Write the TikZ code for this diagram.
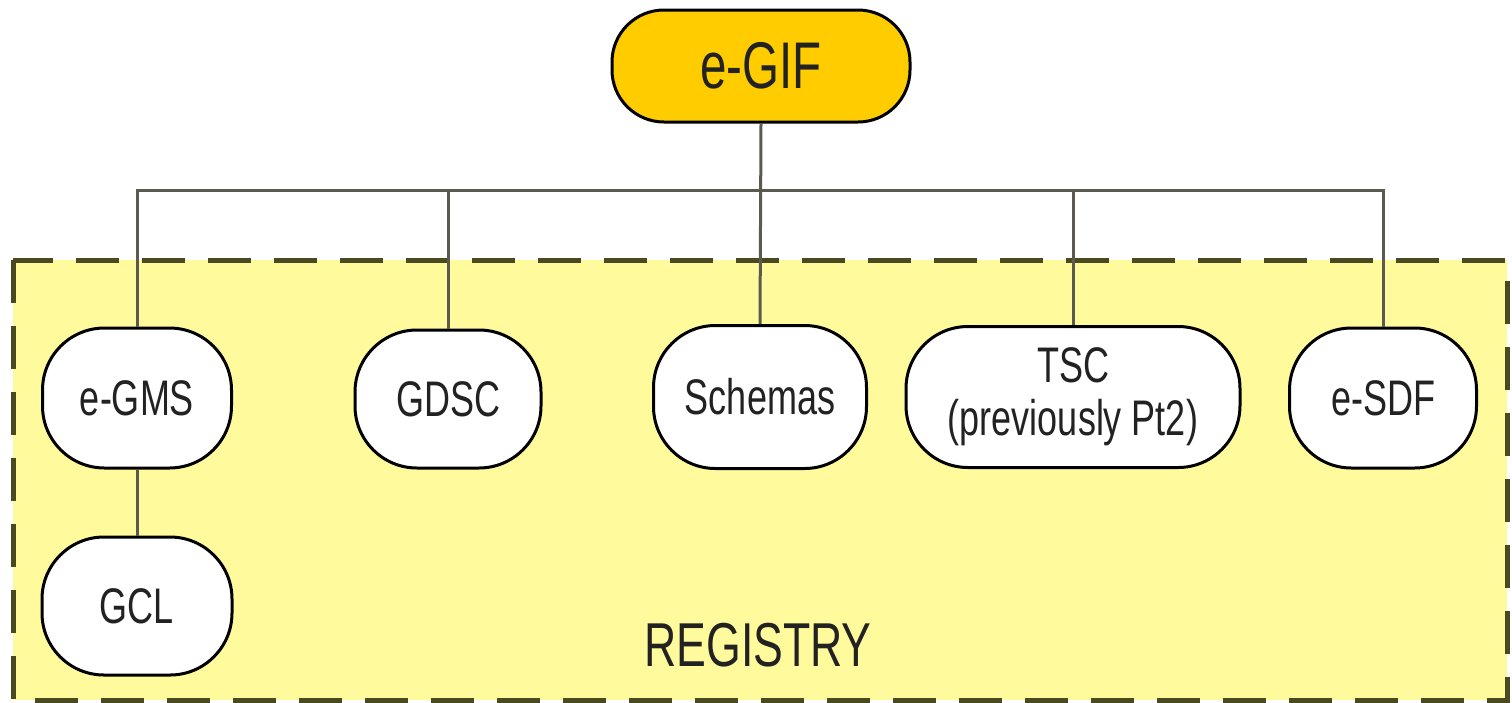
\documentclass[tikz,border=0pt]{standalone}
\usepackage{fontspec}
\setmainfont{Liberation Sans}
\newfontfamily\narrowfont[FakeStretch=0.72]{Liberation Sans}
\definecolor{regfill}{HTML}{FFFB9C}
\definecolor{regline}{HTML}{4A4A20}
\definecolor{gold}{HTML}{FFCC00}
\definecolor{conn}{HTML}{5A5A50}
\definecolor{txt}{HTML}{222222}
\begin{document}
\begin{tikzpicture}[x=1pt,y=-1pt,
  box/.style={draw=black, line width=3pt, fill=white, rounded corners=62pt,
    inner sep=0pt, align=center, text=txt,
    font=\narrowfont\fontsize{50}{53}\selectfont},
  topbox/.style={box, fill=gold, rounded corners=52pt, font=\narrowfont\fontsize{66}{70}\selectfont},
  link/.style={draw=conn, line width=3pt}]
\useasboundingbox (0,0) rectangle (1512,702);
\fill[white] (0,0) rectangle (1512,702);
% registry region
\draw[fill=regfill, draw=regline, line width=5pt, dash pattern=on 43pt off 23pt]
  (13,260) rectangle (1507,700);
\node[text=txt, font=\narrowfont\fontsize{62}{66}\selectfont] (reg) at (758,645) {REGISTRY};
% nodes
\node[topbox, minimum width=298pt, minimum height=112pt] (egif) at (761,66) {e-GIF};
\node[box, minimum width=189pt, minimum height=140pt] (egms) at (137,398) {e-GMS};
\node[box, minimum width=186pt, minimum height=138pt] (gdsc) at (448,399) {GDSC};
\node[box, minimum width=213pt, minimum height=143pt] (schemas) at (760,397) {Schemas};
\node[box, minimum width=334pt, minimum height=141pt] (tsc) at (1073,397) {TSC\\(previously Pt2)};
\node[box, minimum width=187pt, minimum height=140pt] (esdf) at (1383,398) {e-SDF};
\node[box, minimum width=190pt, minimum height=138pt] (gcl) at (137,606) {GCL};
% connectors
\coordinate (bus) at (761,190);
\draw[link] (egms.north) |- (bus) -| (esdf.north);
\draw[link] (gdsc.north) -- (gdsc.north |- bus);
\draw[link] (tsc.north) -- (tsc.north |- bus);
\draw[link] (egif.south) -- (schemas.north);
\draw[link] (egms.south) -- (gcl.north);
\end{tikzpicture}
\end{document}
